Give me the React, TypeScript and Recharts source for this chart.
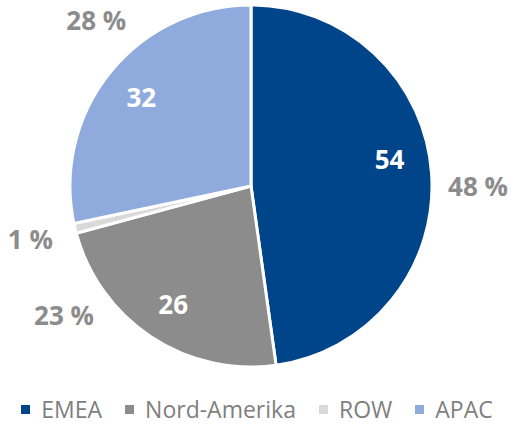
import React from "react";
import { PieChart, Pie, Cell } from "recharts";

const categories = ["EMEA", "Nord-Amerika", "ROW", "APAC"];
const values = [54, 26, 1, 32];
const percentLabels = ["48 %", "23 %", "1 %", "28 %"];
const colors = ["#00458A", "#8C8C8C", "#D9D9D9", "#8FAADC"];

// label placement tweaks (degrees, relative to slice mid-angle)
const insideNudge = [-7, 0, 0, 0];
const outsideNudge = [-4, -22, 0, -8];
const showInside = [true, true, false, true];

const data = categories.map((name, i) => ({ name, value: values[i] }));

const FONT = "'Open Sans', 'Liberation Sans', sans-serif";
const RADIAN = Math.PI / 180;

const renderLabel = (props: any) => {
  const { cx, cy, midAngle, outerRadius, index } = props;
  const elems: React.ReactNode[] = [];
  if (showInside[index]) {
    const a = (midAngle - insideNudge[index]) * RADIAN;
    const r = outerRadius * 0.78;
    elems.push(
      <text
        key="in"
        x={cx + r * Math.cos(a)}
        y={cy - r * Math.sin(a)}
        fill="#FFFFFF"
        textAnchor="middle"
        dominantBaseline="central"
        fontFamily={FONT}
        fontWeight={700}
        fontSize={26}
      >
        {values[index]}
      </text>
    );
  }
  const b = (midAngle + outsideNudge[index]) * RADIAN;
  const ro = outerRadius + 46;
  elems.push(
    <text
      key="out"
      x={cx + ro * Math.cos(b)}
      y={cy - ro * Math.sin(b)}
      fill="#8C8C8C"
      textAnchor="middle"
      dominantBaseline="central"
      fontFamily={FONT}
      fontWeight={700}
      fontSize={26}
    >
      {percentLabels[index]}
    </text>
  );
  return <g>{elems}</g>;
};

const LegendBlock = () => (
  <div
    style={{
      position: "absolute",
      left: 0,
      top: 393,
      width: 514,
      display: "flex",
      justifyContent: "center",
      alignItems: "center",
      fontFamily: FONT,
      fontSize: 23,
      color: "#7F7F7F",
      whiteSpace: "nowrap",
    }}
  >
    {categories.map((c, i) => (
      <div
        key={c}
        style={{ display: "flex", alignItems: "center", marginLeft: i === 0 ? 0 : 23 }}
      >
        <span
          style={{ display: "inline-block", width: 9, height: 9, background: colors[i], marginRight: 11 }}
        />
        <span>{c}</span>
      </div>
    ))}
  </div>
);

export default function App() {
  return (
    <div style={{ position: "absolute", left: 0, top: 0, width: 514, height: 425, background: "#fff", overflow: "hidden" }}>
      <PieChart width={514} height={392} margin={{ top: 0, right: 0, bottom: 0, left: 0 }}>
        <Pie
          data={data}
          dataKey="value"
          nameKey="name"
          cx={251}
          cy={186}
          outerRadius={181}
          startAngle={90}
          endAngle={-270}
          stroke="#FFFFFF"
          strokeWidth={3}
          label={renderLabel}
          labelLine={false}
          isAnimationActive={false}
        >
          {data.map((d, i) => (
            <Cell key={d.name} fill={colors[i]} />
          ))}
        </Pie>
      </PieChart>
      <LegendBlock />
    </div>
  );
}
